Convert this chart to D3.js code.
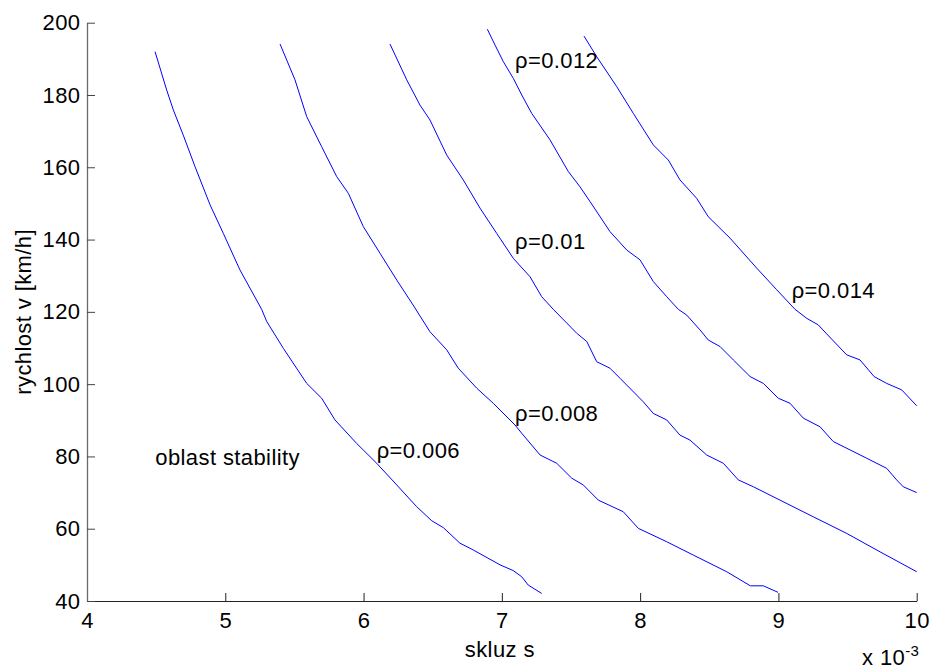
<!DOCTYPE html>
<html>
<head>
<meta charset="utf-8">
<script src="https://cdn.jsdelivr.net/npm/d3@7"></script>
<style>
  body { margin: 0; background: #fff; }
  text { font-family: "Liberation Sans", Arial, sans-serif; }
</style>
</head>
<body>
<div id="chart"></div>
<script>
// Stability boundaries v(s) for several rho values

// Axis ticks
var xTicks = [4, 5, 6, 7, 8, 9, 10];
var yTicks = [40, 60, 80, 100, 120, 140, 160, 180, 200];

// rho = 0.006
var s006 = [4.492, 4.576, 4.624, 4.696, 4.781, 4.890, 4.986, 5.106, 5.263, 5.300, 5.420, 5.589, 5.697, 5.793,
  5.950, 6.095, 6.240, 6.384, 6.493, 6.577, 6.697, 6.794, 6.987, 7.083, 7.144, 7.191, 7.288];
var v006 = [192.0, 181.4, 175.9, 168.9, 160.2, 149.6, 141.7, 131.6, 120.7, 117.3, 109.9, 100.2, 96.1, 90.1,
  83.6, 78.1, 72.1, 66.1, 62.2, 60.3, 56.0, 54.1, 50.0, 48.4, 46.7, 44.4, 42.1];

// rho = 0.008
var s008 = [5.396, 5.504, 5.589, 5.697, 5.806, 5.890, 5.998, 6.119, 6.240, 6.358, 6.480, 6.601, 6.685, 6.818,
  6.938, 7.095, 7.144, 7.276, 7.397, 7.505, 7.589, 7.698, 7.878, 7.987, 8.192, 8.385, 8.626, 8.797, 8.891, 8.997];
var v008 = [194.1, 184.2, 174.0, 165.7, 157.4, 152.8, 143.6, 136.2, 128.8, 121.9, 114.5, 109.5, 104.4, 98.9,
  94.7, 88.7, 86.4, 80.4, 78.1, 74.0, 72.1, 67.9, 64.7, 60.1, 56.4, 52.7, 48.1, 44.2, 44.2, 42.4];

// rho = 0.01
var s010 = [6.191, 6.312, 6.408, 6.480, 6.601, 6.721, 6.842, 6.963, 7.083, 7.204, 7.288, 7.372, 7.541, 7.614,
  7.686, 7.782, 7.855, 8.023, 8.095, 8.192, 8.288, 8.361, 8.481, 8.602, 8.710, 8.819, 9.012, 9.252, 9.494, 9.735, 10.0];
var v010 = [194.1, 184.2, 177.2, 173.1, 163.4, 156.5, 148.7, 141.7, 134.8, 129.7, 124.2, 120.7, 114.1, 111.8,
  106.2, 104.4, 101.6, 95.1, 91.9, 90.1, 85.9, 84.5, 80.4, 78.1, 73.5, 71.6, 67.9, 63.3, 58.7, 53.6, 48.1];

// rho = 0.012
var s012 = [6.895, 6.951, 7.011, 7.083, 7.144, 7.216, 7.348, 7.481, 7.565, 7.638, 7.782, 7.903, 7.999, 8.095,
  8.192, 8.276, 8.337, 8.433, 8.493, 8.578, 8.674, 8.795, 8.891, 8.999, 9.084, 9.180, 9.301, 9.397, 9.518,
  9.638, 9.783, 9.855, 9.903, 10.0];
var v012 = [198.2, 193.8, 189.2, 184.6, 180.0, 174.9, 167.6, 158.8, 154.6, 150.5, 142.2, 137.1, 134.4, 128.4,
  124.2, 120.7, 119.1, 115.0, 112.2, 110.4, 106.7, 102.1, 100.2, 96.1, 94.7, 90.6, 88.2, 84.1, 81.8,
  79.5, 76.7, 73.5, 71.6, 70.0];

// rho = 0.014
var s014 = [7.594, 7.686, 7.831, 7.951, 8.095, 8.204, 8.288, 8.409, 8.493, 8.650, 8.843, 8.988, 9.120, 9.205,
  9.288, 9.349, 9.494, 9.590, 9.692, 9.783, 9.892, 10.0];
var v014 = [196.3, 190.6, 182.3, 174.9, 166.2, 162.0, 156.5, 151.4, 146.3, 140.4, 132.1, 126.1, 120.7, 118.2,
  116.4, 113.9, 108.1, 106.7, 102.1, 100.2, 98.4, 94.0];

// Curve labels (anchor in data units)
var curveLabels = ['ρ=0.006', 'ρ=0.008', 'ρ=0.01', 'ρ=0.012', 'ρ=0.014'];
var labelS = [6.095, 7.095, 7.095, 7.095, 9.096];
var labelV = [79.6, 89.8, 137.3, 187.4, 123.8];

var regionText = 'oblast stability';
var regionS = 4.494;
var regionV = 77.6;

// Chart area and margins
var svgWidth = 935;
var svgHeight = 672;

var margin = {
  top: 22.7,
  right: 18.3,
  bottom: 71,
  left: 87
};

var chartHeight = svgHeight - margin.top - margin.bottom;
var chartWidth = svgWidth - margin.left - margin.right;

var fontSize = '22px';
var spacing = '0.4px';

var svg = d3.select('#chart')
  .append('svg')
  .attr('width', svgWidth)
  .attr('height', svgHeight);

var chartGroup = svg.append('g')
  .attr('transform', `translate(${margin.left}, ${margin.top})`);

// Scales
var xScale = d3.scaleLinear().domain([4, 10]).range([0, chartWidth]);
var yScale = d3.scaleLinear().domain([40, 200]).range([chartHeight, 0]);

// Axes, ticks pointing inward
var bottomAxis = d3.axisBottom(xScale)
  .tickValues(xTicks)
  .tickFormat(d3.format('d'))
  .tickSizeInner(-8)
  .tickSizeOuter(0)
  .tickPadding(11.4);

var leftAxis = d3.axisLeft(yScale)
  .tickValues(yTicks)
  .tickFormat(d3.format('d'))
  .tickSizeInner(-8)
  .tickSizeOuter(0)
  .tickPadding(6.5);

var xAxisG = chartGroup.append('g')
  .attr('transform', `translate(0, ${chartHeight})`)
  .call(bottomAxis);

var yAxisG = chartGroup.append('g')
  .call(leftAxis);

xAxisG.select('.domain').attr('stroke', '#222');
xAxisG.selectAll('.tick line').attr('stroke', '#222');
yAxisG.select('.domain').attr('stroke', '#6a6a6a').attr('stroke-width', 1.3);
yAxisG.selectAll('.tick line').attr('stroke', '#444');

svg.selectAll('.tick text')
  .attr('fill', '#000')
  .style('font-size', fontSize)
  .style('letter-spacing', spacing);

// Curves
var curves = [
  [s006, v006],
  [s008, v008],
  [s010, v010],
  [s012, v012],
  [s014, v014]
];

var line = d3.line()
  .x(function(d) { return xScale(d[0]); })
  .y(function(d) { return yScale(d[1]); });

chartGroup.selectAll('.curve')
  .data(curves)
  .enter()
  .append('path')
  .attr('class', 'curve')
  .attr('d', function(c) { return line(d3.zip(c[0], c[1])); })
  .attr('fill', 'none')
  .attr('stroke', '#0000ff')
  .attr('stroke-width', 1);

// Curve labels
chartGroup.selectAll('.rho')
  .data(curveLabels)
  .enter()
  .append('text')
  .attr('class', 'rho')
  .attr('x', function(d, i) { return xScale(labelS[i]); })
  .attr('y', function(d, i) { return yScale(labelV[i]); })
  .style('font-size', fontSize)
  .style('letter-spacing', spacing)
  .text(function(d) { return d; });

chartGroup.append('text')
  .attr('x', xScale(regionS))
  .attr('y', yScale(regionV))
  .style('font-size', fontSize)
  .style('letter-spacing', spacing)
  .text(regionText);

// Axis labels
chartGroup.append('text')
  .attr('x', chartWidth / 2 - 2)
  .attr('y', chartHeight + 56)
  .attr('text-anchor', 'middle')
  .style('font-size', fontSize)
  .style('letter-spacing', spacing)
  .text('skluz s');

chartGroup.append('text')
  .attr('transform', 'rotate(-90)')
  .attr('x', -chartHeight / 2)
  .attr('y', -margin.left + 31)
  .attr('text-anchor', 'middle')
  .style('font-size', fontSize)
  .style('letter-spacing', spacing)
  .text('rychlost v [km/h]');

// Exponent note
var expText = chartGroup.append('text')
  .attr('x', 775)
  .attr('y', chartHeight + 64)
  .style('font-size', fontSize)
  .style('letter-spacing', spacing);
expText.append('tspan').text('x 10');
expText.append('tspan')
  .attr('dy', -9)
  .style('font-size', '15px')
  .text('-3');
</script>
</body>
</html>
